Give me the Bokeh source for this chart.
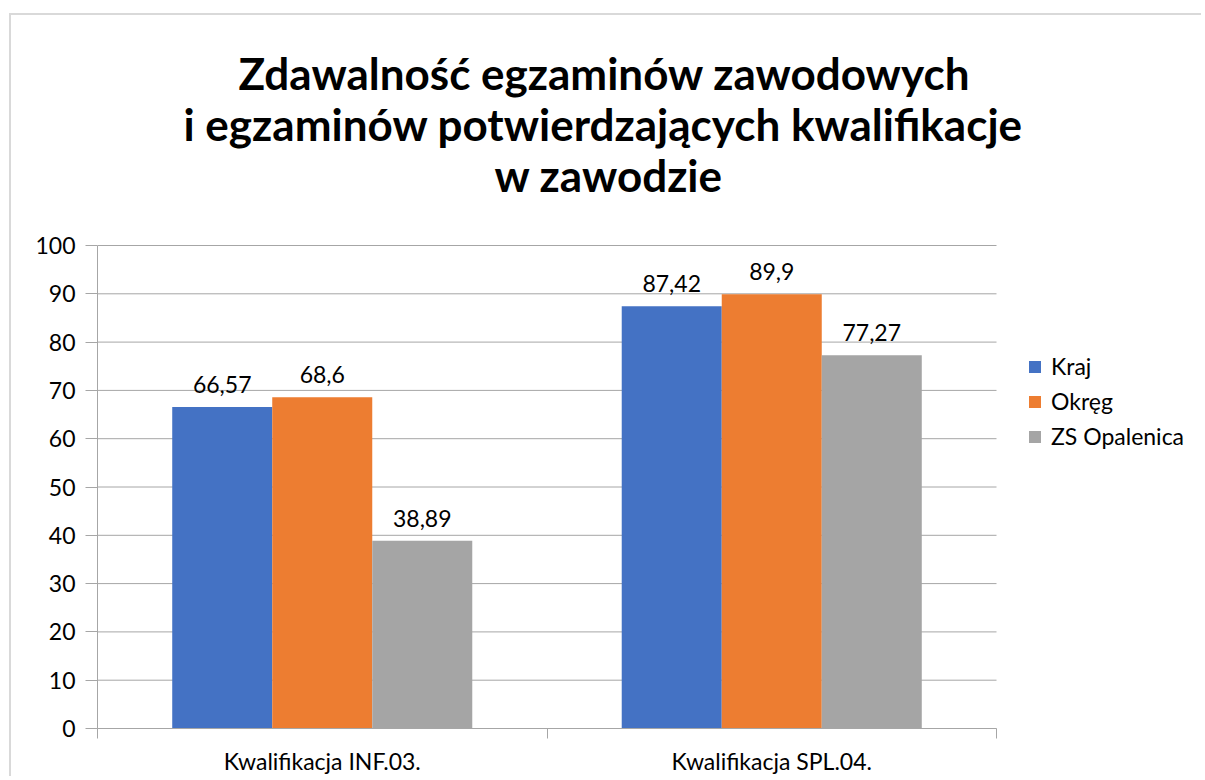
from bokeh.plotting import figure
from bokeh.models import (ColumnDataSource, FixedTicker, Legend, LegendItem,
                          LabelSet, Title, Range1d)
from bokeh.core.properties import value
from bokeh.embed import file_html
from bokeh.resources import INLINE

# ---- data ----
categories = ["Kwalifikacja INF.03.", "Kwalifikacja SPL.04."]
series_names = ["Kraj", "Okręg", "ZS Opalenica"]
kraj = [66.57, 87.42]
okreg = [68.6, 89.9]
zs_opalenica = [38.89, 77.27]
series_values = [kraj, okreg, zs_opalenica]
colors = ["#4472C4", "#ED7D31", "#A5A5A5"]
y_ticks = [0, 10, 20, 30, 40, 50, 60, 70, 80, 90, 100]
title_lines = ["Zdawalność egzaminów zawodowych",
               "i egzaminów potwierdzających kwalifikacje",
               "w zawodzie"]

FONT = "Lato"
TXT = "#000000"
GRID = "#a6a6a6"
LBL = "23px"

n_cat = len(categories)
y_max = y_ticks[-1]
# frame extends past the data area (legend lives inside the frame, right of the bars)
x_view_end = n_cat * 1106 / 899.0
y_view_end = y_max * (1 + 46 / 483.0)

p = figure(width=1192, height=763, output_backend="svg", toolbar_location=None,
           x_range=Range1d(0, x_view_end), y_range=Range1d(0, y_view_end),
           min_border_left=86, min_border_right=0, min_border_top=184,
           min_border_bottom=50, tools="")
p.margin = (13, 0, 0, 9)
p.styles = {"border-top": "2px solid #d9d9d9", "border-left": "2px solid #d9d9d9"}
p.outline_line_color = None
p.background_fill_color = "white"
p.border_fill_color = "white"

# horizontal gridlines limited to the category area
p.xgrid.visible = False
p.ygrid.visible = False
p.segment(x0=[0] * len(y_ticks), x1=[n_cat] * len(y_ticks), y0=y_ticks, y1=y_ticks,
          line_color=GRID, line_width=1)

bar_w = 0.2225
offsets = [-bar_w, 0.0, bar_w]
renderers = []
for name, vals, col, off in zip(series_names, series_values, colors, offsets):
    src = ColumnDataSource(dict(
        x=[i + 0.5 + off for i in range(n_cat)],
        top=vals,
        lab=[("%g" % v).replace(".", ",") for v in vals],
    ))
    r = p.vbar(x="x", top="top", width=bar_w, bottom=0, source=src,
               fill_color=col, line_color=None)
    renderers.append((name, r))
    p.add_layout(LabelSet(x="x", y="top", text="lab", source=src,
                          text_align="center", text_baseline="alphabetic",
                          y_offset=14, text_font=value(FONT),
                          text_font_size=value(LBL),
                          text_color=value(TXT)))

# axes
p.yaxis.bounds = (0, y_max)
p.yaxis.ticker = FixedTicker(ticks=y_ticks, minor_ticks=[])
p.yaxis.major_tick_out = 12
p.yaxis.major_tick_in = 0
p.yaxis.major_tick_line_color = GRID
p.yaxis.axis_line_color = GRID
p.yaxis.major_label_standoff = 10
p.yaxis.major_label_text_font = FONT
p.yaxis.major_label_text_font_size = LBL
p.yaxis.major_label_text_color = TXT

p.xaxis.bounds = (0, n_cat)
p.xaxis.ticker = FixedTicker(ticks=[i + 0.5 for i in range(n_cat)],
                             minor_ticks=list(range(n_cat + 1)))
p.xaxis.major_label_overrides = {i + 0.5: c for i, c in enumerate(categories)}
p.xaxis.major_tick_out = 0
p.xaxis.major_tick_in = 0
p.xaxis.minor_tick_out = 10
p.xaxis.minor_tick_in = 0
p.xaxis.minor_tick_line_color = GRID
p.xaxis.axis_line_color = GRID
p.xaxis.major_label_standoff = 8
p.xaxis.major_label_text_font = FONT
p.xaxis.major_label_text_font_size = LBL
p.xaxis.major_label_text_color = TXT

# legend
legend = Legend(items=[LegendItem(label=n, renderers=[r]) for n, r in renderers],
                location=(930, 278), glyph_width=15, glyph_height=15,
                label_text_font=FONT, label_text_font_size=LBL,
                label_text_color=TXT, spacing=7, label_height=20,
                label_standoff=9, padding=0, margin=0,
                border_line_color=None, background_fill_alpha=0)
p.add_layout(legend, "center")

# titles (added from closest to frame outward)
title_offsets = [141, 86, 397]
for line, off in reversed(list(zip(title_lines, title_offsets))):
    p.add_layout(Title(text=line, text_font=FONT, text_font_style="bold",
                       text_font_size="44px", text_color=TXT, align="left",
                       offset=off, standoff=-3), "above")

open("out.html", "w").write(file_html(p, INLINE))
